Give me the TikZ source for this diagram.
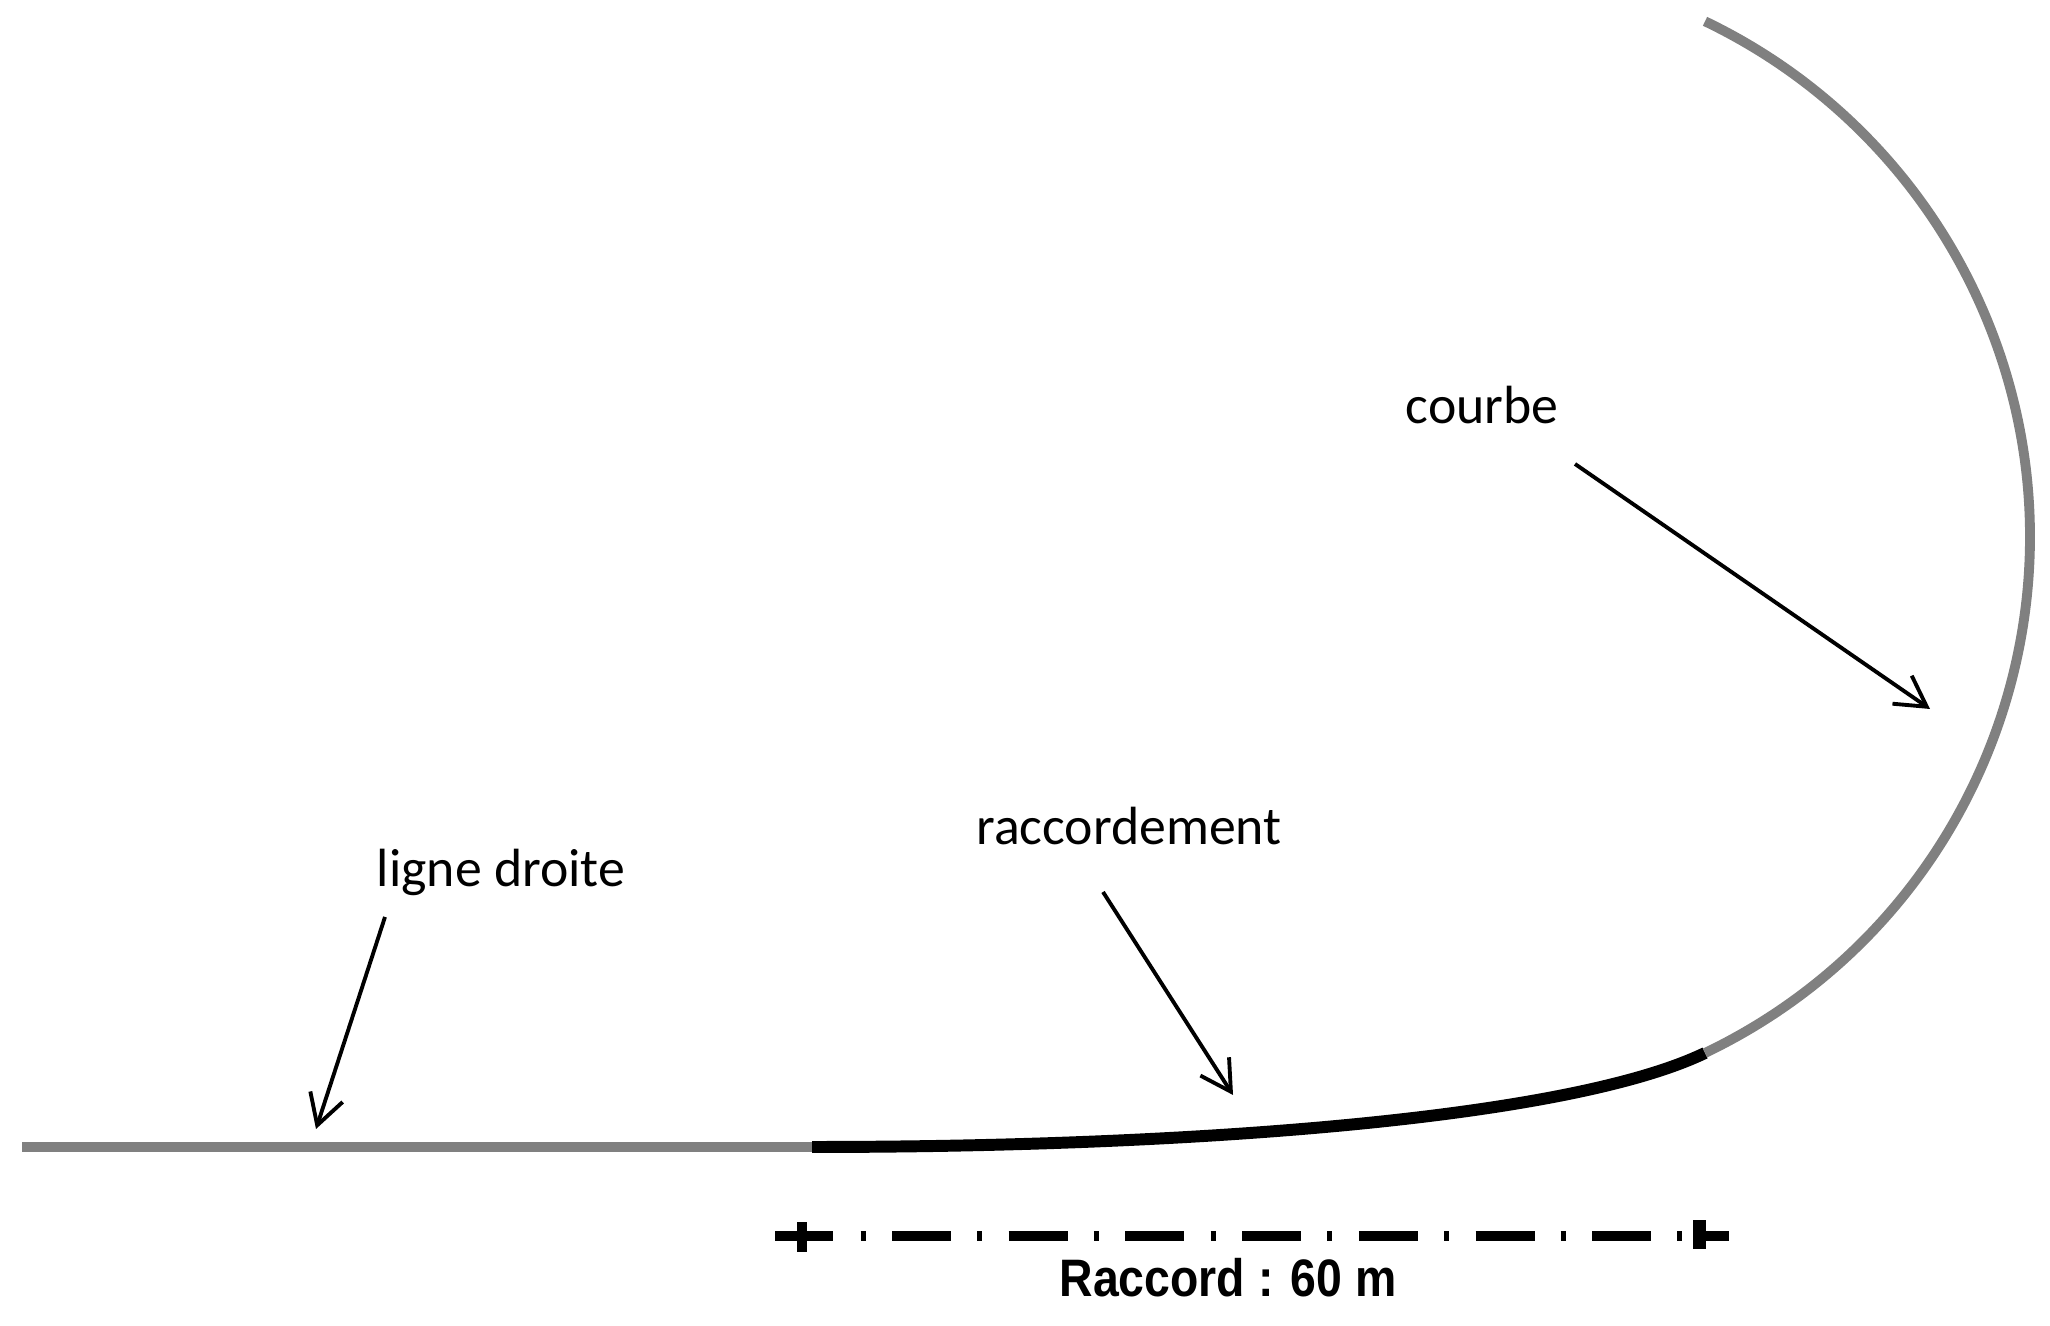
\documentclass[tikz,border=0pt]{standalone}
\usepackage{fontspec}
\setmainfont{Carlito}
\newfontfamily\cotefont{Liberation Sans}
\usepackage{tikz}
\usetikzlibrary{arrows.meta,positioning,calc}
\definecolor{trackgray}{RGB}{128,128,128}

\begin{document}
\begin{tikzpicture}[
    lbl/.style={font=\fontsize{15.3}{18}\selectfont, inner sep=0pt, anchor=base},
    pointer/.style={-{Straight Barb[length=3mm,width=3.4mm]}, line width=1.1pt},
    dimline/.style={black, line width=3pt}
]
    \useasboundingbox (0,0) rectangle (20.5,13.26);

    % Ligne droite
    \draw[trackgray, line width=2.8pt] (0.22,1.79) coordinate (p0) -- (8.12,1.79) coordinate (p1);
    % Raccordement
    \draw[black, line width=3.4pt] (p1) .. controls (12,1.79) and (15.70,2.08) .. (17.05,2.73) coordinate (p2);
    % Courbe
    \draw[trackgray, line width=2.8pt] (p2) arc[start angle=-64.4, end angle=64.4, radius=5.72];

    % Labels
    \node[lbl] (droite) at (5.01,4.39) {ligne droite};
    \node[lbl] (racc) at (11.29,4.81) {raccordement};
    \node[lbl] (courbe) at (14.82,9.02) {courbe};

    % Pointer arrows
    \coordinate (droitetail) at (3.85,4.09);
    \coordinate (droitetip) at (3.16,1.97);
    \coordinate (racctail) at (11.03,4.34);
    \coordinate (racctip) at (12.33,2.31);
    \coordinate (courbetail) at (15.75,8.62);
    \coordinate (courbetip) at (19.30,6.17);
    \draw[pointer] (droitetail) -- (droitetip);
    \draw[pointer] (racctail) -- (racctip);
    \draw[pointer] (courbetail) -- (courbetip);

    % Cote du raccord
    \draw[dimline] (7.75,0.90) -- (8.33,0.90);
    \draw[dimline] (8.02,0.74) -- (8.02,1.04);
    \foreach \k in {0,...,7}
        \draw[dimline] ({8.605+1.167*\k},0.90) -- ++(0.05,0);
    \foreach \k in {0,...,6}
        \draw[dimline] ({8.92+1.167*\k},0.90) -- ++(0.59,0);
    \draw[dimline, line width=3.7pt] (16.995,0.77) -- (16.995,1.06);
    \draw[dimline] (17.06,0.90) -- (17.29,0.90);
    \node[font=\cotefont\bfseries\fontsize{15}{17}\selectfont, xscale=0.88, transform shape, inner sep=0pt, anchor=base] (cote) at (12.28,0.29) {Raccord : 60 m};
\end{tikzpicture}
\end{document}
